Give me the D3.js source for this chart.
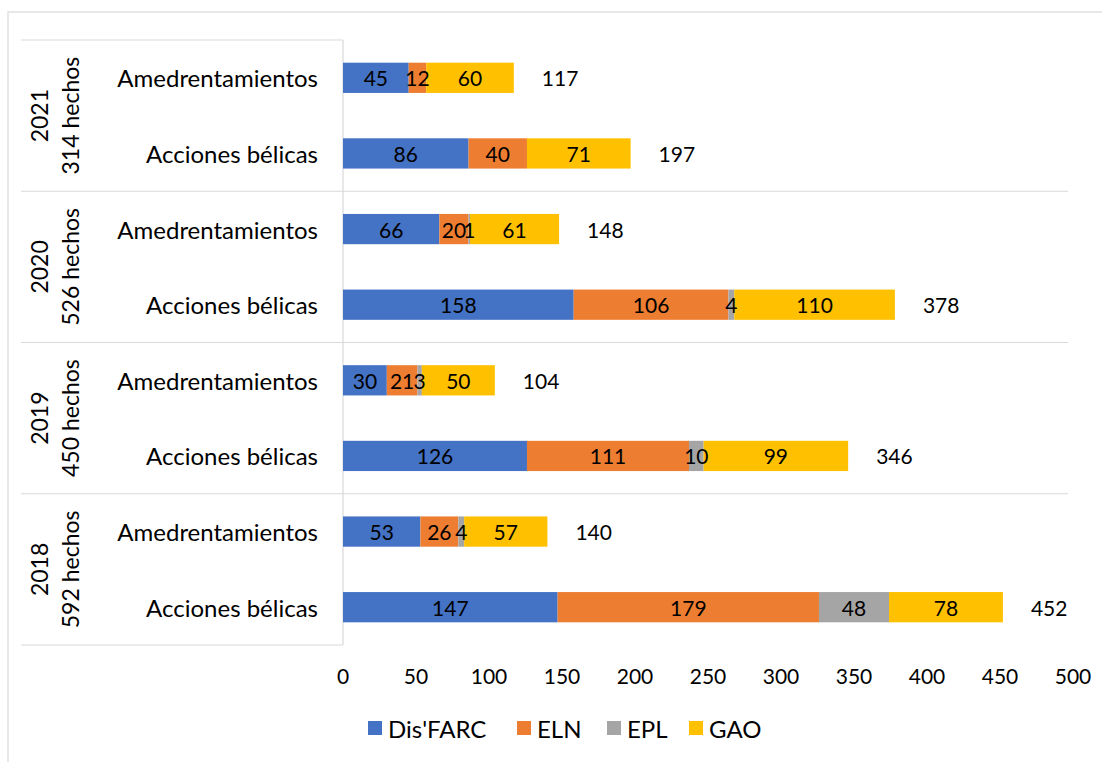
<!DOCTYPE html>
<html><head><meta charset="utf-8">
<script src="https://cdn.jsdelivr.net/npm/d3@7"></script>
<style>body{margin:0;background:#fff;}svg text{font-family:Lato,"Open Sans",sans-serif;fill:#000;}</style>
</head><body><svg id="c" width="1102" height="762"></svg>
<script>
const years = ["2021","2020","2019","2018"];
const yearHechos = ["314 hechos","526 hechos","450 hechos","592 hechos"];
const types = ["Amedrentamientos","Acciones bélicas"];
const seriesNames = ["Dis'FARC","ELN","EPL","GAO"];
const disFARC = [45, 86, 66, 158, 30, 126, 53, 147];
const eln =     [12, 40, 20, 106, 21, 111, 26, 179];
const epl =     [0, 0, 1, 4, 3, 10, 4, 48];
const gao =     [60, 71, 61, 110, 50, 99, 57, 78];
const xTicks = [0,50,100,150,200,250,300,350,400,450,500];
const colors = ["#4472C4","#ED7D31","#A5A5A5","#FFC000"];

const cats = [];
years.forEach((y,i)=>types.forEach((t,j)=>cats.push({id:y+"|"+t, year:y, type:t, gi:i})));
const rows = cats.map((c,i)=>({...c, v:[disFARC[i],eln[i],epl[i],gao[i]]}));

const svg = d3.select("#c");
// outer frame
svg.append("rect").attr("x",8).attr("y",12).attr("width",1120).attr("height",800)
  .attr("fill","none").attr("stroke","#d9d9d9").attr("stroke-width",1.2);

const x = d3.scaleLinear().domain([0,500]).range([343,1073]);
const y = d3.scaleBand().domain(cats.map(c=>c.id)).range([40,645]).paddingInner(0.6).paddingOuter(0.3);

// group separators
const gBound = d3.scaleLinear().domain([0,4]).range([40,645]);
[0,1,2,3,4].forEach(k=>{
  const yy = gBound(k);
  const inner = k>0 && k<4;
  svg.append("line").attr("x1",21).attr("x2", inner?1068:343).attr("y1",yy).attr("y2",yy)
    .attr("stroke","#d9d9d9").attr("stroke-width",1.2);
});
// axis line
svg.append("line").attr("x1",343).attr("x2",343).attr("y1",40).attr("y2",645)
  .attr("stroke","#d9d9d9").attr("stroke-width",1.2);

// stacked bars
const stack = d3.stack().keys([0,1,2,3]).value((d,k)=>d.v[k]);
const layers = stack(rows);
layers.forEach((layer,k)=>{
  svg.append("g").selectAll("rect").data(layer).join("rect")
    .attr("x",d=>x(d[0])).attr("width",d=>x(d[1])-x(d[0]))
    .attr("y",d=>y(d.data.id)).attr("height",y.bandwidth())
    .attr("fill",colors[k]);
});
layers.forEach((layer,k)=>{
  svg.append("g").selectAll("text").data(layer.filter(d=>d[1]-d[0]>0)).join("text")
    .attr("x",d=>(x(d[0])+x(d[1]))/2).attr("y",d=>y(d.data.id)+y.bandwidth()/2)
    .attr("text-anchor","middle").attr("dominant-baseline","central")
    .attr("font-size",21).text(d=>d[1]-d[0]);
});
// totals
svg.append("g").selectAll("text").data(rows).join("text")
  .attr("x",d=>x(d3.sum(d.v))+28).attr("y",d=>y(d.id)+y.bandwidth()/2)
  .attr("dominant-baseline","central").attr("font-size",21)
  .text(d=>d3.sum(d.v));

// category labels
svg.append("g").selectAll("text").data(cats).join("text")
  .attr("x",318).attr("y",d=>y(d.id)+y.bandwidth()/2)
  .attr("text-anchor","end").attr("dominant-baseline","central")
  .attr("font-size",24).text(d=>d.type);
// year labels
years.forEach((yr,i)=>{
  const cy = (gBound(i)+gBound(i+1))/2;
  const t = svg.append("text").attr("transform",`translate(48,${cy}) rotate(-90)`)
    .attr("text-anchor","middle").attr("font-size",23);
  t.append("tspan").attr("x",0).attr("dy",0).text(yr);
  t.append("tspan").attr("x",0).attr("dy",31).text(yearHechos[i]);
});

// x axis tick labels
svg.append("g").selectAll("text").data(xTicks).join("text")
  .attr("x",d=>x(d)).attr("y",675).attr("text-anchor","middle")
  .attr("dominant-baseline","central").attr("font-size",21).text(d=>d);

// legend
const legX = [368,517,607,689];
seriesNames.forEach((s,k)=>{
  svg.append("rect").attr("x",legX[k]).attr("y",721).attr("width",14).attr("height",14).attr("fill",colors[k]);
  svg.append("text").attr("x",legX[k]+20).attr("y",728).attr("dominant-baseline","central")
    .attr("font-size",24).text(s);
});
</script></body></html>
